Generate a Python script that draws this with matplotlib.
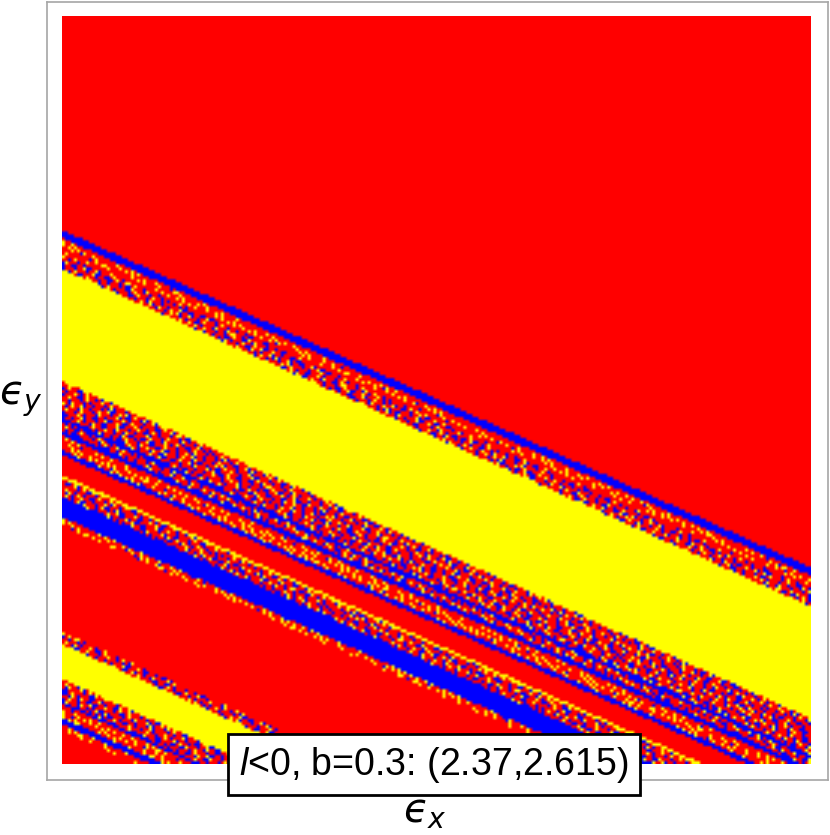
import numpy as np
import matplotlib
matplotlib.use("Agg")
import matplotlib.pyplot as plt
from matplotlib.patches import Rectangle

plt.rcParams['font.family'] = ['Liberation Sans', 'DejaVu Sans']
plt.rcParams['mathtext.fontset'] = 'custom'
plt.rcParams['mathtext.rm'] = 'Liberation Sans'
plt.rcParams['mathtext.it'] = 'Liberation Sans:italic'

### datos ###
# band edges, read at the left side of the picture (0 = bottom, 1 = top), top to bottom
band_edges = [.7139, .7032, .7005, .6898, .6858, .6818, .6765, .6618, .5120, .4639,
              .4586, .4465, .4398, .4372, .4198, .4131, .3864, .3824, .3570, .3302,
              .3195, .1765, .1604, .1136, .0842, .0802, .0775, .0615, .0535, .0455]
# one letter per band: R red, B blue, Y yellow, D red/blue/yellow speckle, F red/yellow speckle
band_kinds = "RBRFRDDDYDBDBRFBRYDBFRDYDBRFBFR"
band_slope = 0.4516
n_cells = 250

# speckle is not readable cell by cell, so it is a hand typed texture and not the real cells
# rows have different lengths so the texture does not line up into a lattice
tile_d = ["RBBRYRRRBRRYBRRRBYRRBBRRRY",
          "RRRBRYRRBBRRRYBBRRRYRBR",
          "BYRRRBRRYRRBRRBBRYRRRBRRYRR",
          "RRBBRYRBRRRYBRRRBRRBYRRB",
          "YRRRBRRBYRBBRRRRYBRRBRRRBRY",
          "BBRYRRRBRYRRRBRBBRYRRBR",
          "RRRBRRYBBRRBYRRRRBYRBRRRBBY",
          "RBYRRBBRRRYRBRYRBRRRBRYR",
          "YRRBBRYRRRBRRBBRRYBRRRYRBRR",
          "RBRRRBYRRYBBRRBRRRBRYRRB",
          "RRYRBYRRRBRBRRRYRRBBYRRRB",
          "BRRRBRYRRBRYBBRRRBRYRRYBRR",
          "RBYBRRRBBRYRRRBYRRBRRRB",
          "RRRBRYRRYBBRRRBRRYBRBBRRRBRY",
          "YBRRBBRRRYRBRRRBYRRRBRRYR",
          "RRBRRRYBRBBRYRRRBRRYBRRBB",
          "BRRYRBRRRBRRYBBRRRYRBRRRBY"]
tile_f = ["RYRRRYRRBRYRRRRYRYRRYRRR",
          "YRRYRYRRRRRYRYRRRRBYR",
          "RRRYRRRYYRRRYRRYRYRRRRYRRR",
          "RYRRYBRRRRYRRRYRRRYRYRR",
          "YRYRRRRYRRYRYYRRYRRRRYRYRR",
          "RRRYRYRRYRRRRBRRYRYRRRR",
          "RYRRRRYYRRYRYRRRYRRRRYRYRRR",
          "YRRBYRRRYRRRYRRYRYRRR",
          "RRYRRYRYRRRYRRRYRRRRYRRYR"]
row_shifts = [0, 11, 5, 17, 3, 22, 8, 14, 1, 19, 6, 25, 12, 2, 16, 9, 21, 4, 13, 24, 7, 18, 10, 23, 15, 20, 5, 0, 26]

# label text
label_text = r"$\mathit{l}$<0, b=0.3: (2.37,2.615)"
x_label = r"$ϵ_x$"
y_label = r"$ϵ_y$"

colors = {'R': (1, 0, 0), 'B': (0, 0, 1), 'Y': (1, 1, 0)}

def celda(kind, row, col):
    if kind in colors:
        return colors[kind]
    tile = tile_d if kind == 'D' else tile_f
    t = tile[row % len(tile)]
    return colors[t[(col + row_shifts[row % len(row_shifts)]) % len(t)]]

grid = np.zeros((n_cells, n_cells, 3))
edges_up = np.array(band_edges[::-1])
for row in range(n_cells):
    for col in range(n_cells):
        x = (col + 0.5) / n_cells
        y = 1 - (row + 0.5) / n_cells
        i = np.searchsorted(edges_up, y + band_slope * x)
        kind = band_kinds[len(band_edges) - i]
        grid[row, col] = celda(kind, row, col)

W, H = 830, 835
fig = plt.figure(figsize=(W / 100, H / 100), dpi=100)
ax = fig.add_axes([47 / W, 1 - 780 / H, 780.5 / W, 778.5 / H])
ax.imshow(grid, extent=(0, 1, 0, 1), origin='upper', interpolation='bilinear', aspect='auto')
ax.set_xlim(-0.0200, 1.0233)
ax.set_ylim(-0.0214, 1.0194)
ax.set_xticks([])
ax.set_yticks([])
for s in ax.spines.values():
    s.set_color('#a6a6a6')
    s.set_linewidth(1.2)

fig.add_artist(Rectangle((228 / W, 1 - 795 / H), 412 / W, 61 / H, transform=fig.transFigure,
                         facecolor='white', edgecolor='black', linewidth=2.0, zorder=5))
fig.text(434 / W, 1 - 765 / H, label_text, fontsize=27, ha='center', va='center', zorder=6)

fig.text(425 / W, 1 - 812 / H, x_label, fontsize=29, math_fontfamily='dejavusans', ha='center', va='center')
fig.text(21 / W, 1 - 399 / H, y_label, fontsize=29, math_fontfamily='dejavusans', ha='center', va='center')

fig.savefig("out.png", dpi=100)
